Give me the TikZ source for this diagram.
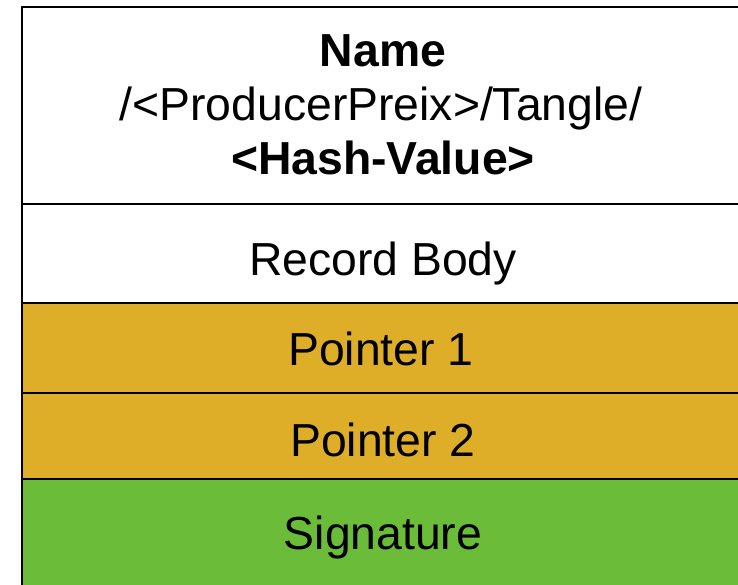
\documentclass[tikz,border=0pt]{standalone}
\usepackage{fontspec}
\setmainfont{Liberation Sans}
\definecolor{ptrfill}{HTML}{DFAE29}
\definecolor{sigfill}{HTML}{6BBC39}
\begin{document}
\begin{tikzpicture}[x=1bp,y=-1bp,
  rowline/.style={line width=2.7bp, black},
  celltext/.style={anchor=base, font=\fontsize{46.5}{56}\selectfont, inner sep=0pt}]
\useasboundingbox (0,0) rectangle (738,585);
\clip (0,0) rectangle (738,585);
% coloured record fields
\fill[ptrfill] (22,303) rectangle (760,479);
\fill[sigfill] (22,479) rectangle (760,600);
% outline and field separators
\draw[rowline] (22,600) -- (22,7) -- (760,7);
\draw[rowline] (21,204) -- (760,204);
\draw[rowline] (21,303) -- (760,303);
\draw[rowline] (21,393) -- (760,393);
\draw[rowline] (21,479) -- (760,479);
% field labels
\node[celltext] (name)  at (383,67)  {\bfseries Name};
\node[celltext] (path)  at (381,121) {/<ProducerPreix>/Tangle/};
\node[celltext] (hash)  at (383,175) {\bfseries <Hash-Value>};
\node[celltext] (body)  at (383,275) {Record Body};
\node[celltext] (ptr1)  at (381,365) {Pointer 1};
\node[celltext] (ptr2)  at (383,456) {Pointer 2};
\node[celltext] (sig)   at (383,549) {Signature};
\end{tikzpicture}
\end{document}
